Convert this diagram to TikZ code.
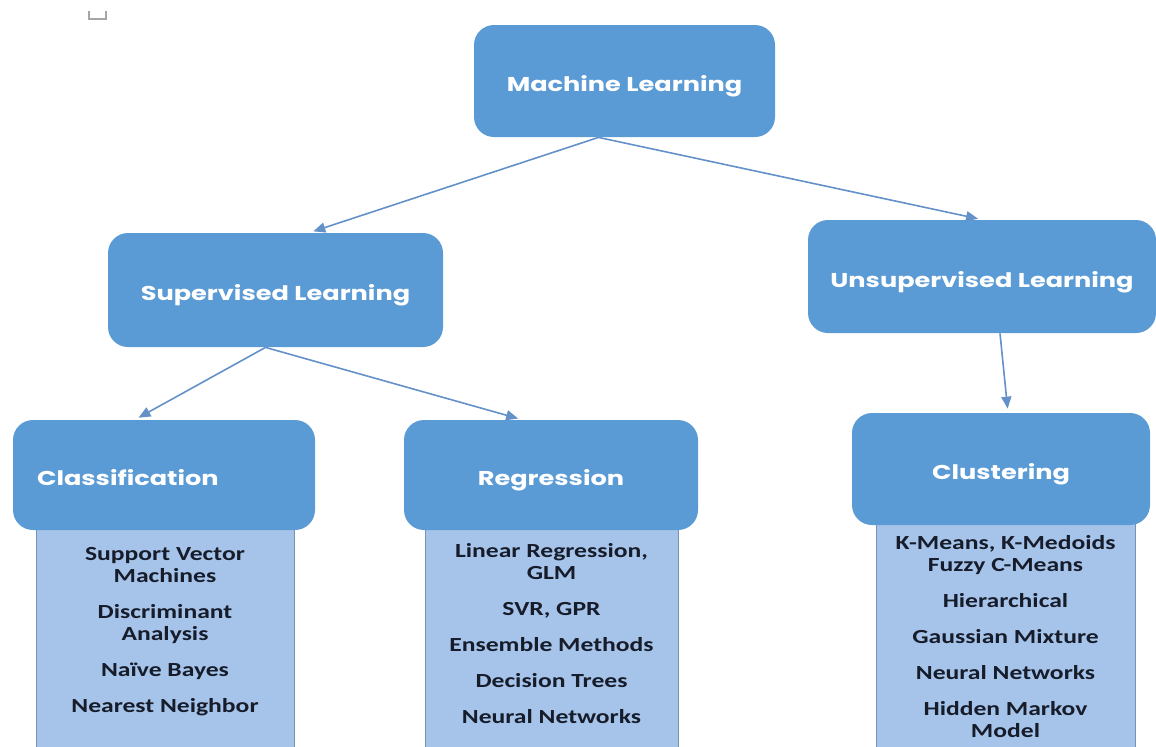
\documentclass[tikz,border=0pt]{standalone}
\usepackage{fontspec}
\newfontfamily\headfont[FakeStretch=1.28]{Poppins}
\newfontfamily\itemfont[FakeStretch=1.28]{Carlito}
\definecolor{mlblue}{RGB}{91,155,213}
\definecolor{listblue}{RGB}{166,196,234}
\definecolor{listedge}{RGB}{120,146,182}
\definecolor{arrowblue}{RGB}{100,145,200}
\definecolor{itemtext}{RGB}{22,28,42}
\usetikzlibrary{arrows.meta}
\usetikzlibrary{positioning}
\tikzset{
    arrow/.style={->,>={Triangle[length=6pt,width=5pt]}, shorten >=2pt, draw=arrowblue, fill=arrowblue, line width=0.8pt},
    box/.style = {
      rectangle,
      rounded corners=10pt,
      fill=mlblue,
      text=white,
      text height=10.5pt,
      text depth=0pt,
      font=\headfont\bfseries\fontsize{10}{12}\selectfont
    },
    listbox/.style = {
      rectangle,
      draw=listedge,
      fill=listblue,
      text=itemtext,
      align=center,
      minimum height=125pt,
      font=\itemfont\bfseries\fontsize{10}{11}\selectfont
    },
}

\begin{document}
\begin{tikzpicture}[x=0.5pt, y=-0.5pt]
      \clip (0,0) rectangle (1156,746);

      % empty paragraph mark
      \draw[gray!70, line width=0.8pt] (89,11) -- (89,19) -- (106,19) -- (106,11);

      % lists under the leaf boxes
      \node [listbox, minimum width=129pt] (clsList) at (165,632)
        {Support Vector\\Machines\\[7pt]Discriminant\\Analysis\\[7pt]Naïve Bayes\\[7pt]Nearest Neighbor};
      \node [listbox, minimum width=126.5pt] (regList) at (551.5,633.5)
        {Linear Regression,\\GLM\\[7pt]SVR, GPR\\[7pt]Ensemble Methods\\[7pt]Decision Trees\\[7pt]Neural Networks};
      \node [listbox, minimum width=129.5pt] (cluList) at (1005.5,636.5)
        {K-Means, K-Medoids\\Fuzzy C-Means\\[7pt]Hierarchical\\[7pt]Gaussian Mixture\\[7pt]Neural Networks\\[7pt]Hidden Markov\\Model};

      \node [box, minimum width=150.5pt, minimum height=56pt] (ml) at (624.5,81) {Machine Learning};

      \node [box, minimum width=167.5pt, minimum height=57pt] (sup) at (275.5,290) {Supervised Learning};
      \node [box, minimum width=174pt, minimum height=56.5pt] (uns) at (982,276.5) {Unsupervised Learning};

      \node [
        box,
        minimum height=55pt,
        text width=127pt,
        inner xsep=12pt,
        align=left,
      ] (cls) at (164,475) {Classification};
      \node [box, minimum width=147pt, minimum height=55pt] (reg) at (551,475) {Regression};
      \node [box, minimum width=149pt, minimum height=56pt] (clu) at (1001,469) {Clustering};

      \draw[arrow] ([xshift=-13pt]ml.south) -- ([xshift=17pt]sup.north);
      \draw[arrow] ([xshift=-13pt]ml.south) -- (uns.north);
      \draw[arrow] ([xshift=-5pt]sup.south) -- ([xshift=-14.5pt]cls.north);
      \draw[arrow] ([xshift=-5pt]sup.south) -- ([xshift=-14.5pt]reg.north);
      \draw[arrow] ([xshift=9pt]uns.south) -- ([xshift=3.5pt]clu.north);
\end{tikzpicture}
\end{document}
